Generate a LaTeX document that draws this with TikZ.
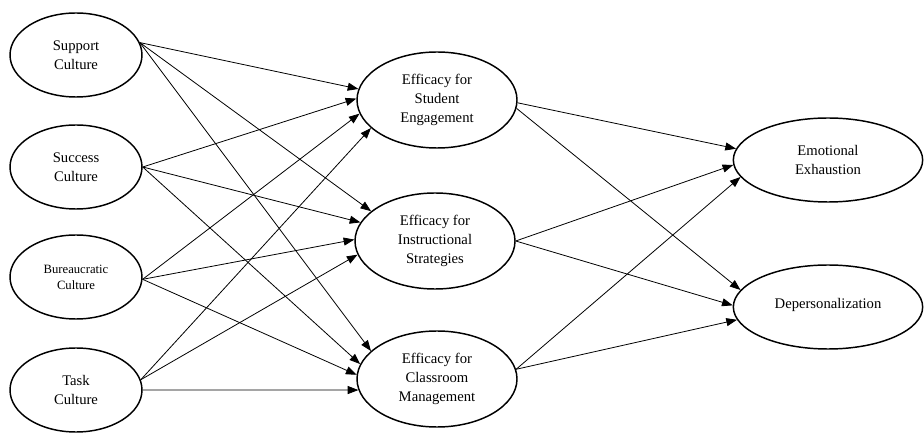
\documentclass[tikz,border=0pt]{standalone}
\usepackage{fontspec}
\setmainfont{Liberation Serif}
\usetikzlibrary{shapes.geometric}
\usetikzlibrary{arrows.meta}

\begin{document}
\begin{tikzpicture}[x=0.75pt,y=-0.75pt,
    latent/.style={draw,ellipse,line width=1.1pt,inner sep=0pt,align=center,
      font=\fontsize{11}{14}\selectfont},
    culture/.style={latent,minimum width=99pt,minimum height=63pt},
    efficacy/.style={latent,minimum width=120pt,minimum height=72pt},
    burnout/.style={latent,minimum width=142pt,minimum height=63pt},
    path/.style={-{Triangle[length=8pt,width=6pt]},line width=0.6pt}]
    \useasboundingbox (0,0) rectangle (924,434);
    % school culture
    \node[culture] (support) at (76,55) {Support\\Culture};
    \node[culture] (success) at (76,167) {Success\\Culture};
    \node[culture,font=\fontsize{9.5}{12}\selectfont] (bureau) at (76,277) {Bureaucratic\\Culture};
    \node[culture] (task) at (76,390) {Task\\Culture};
    % teacher efficacy
    \node[efficacy] (ese) at (437,100) {Efficacy for\\Student\\Engagement};
    \node[efficacy] (eis) at (435,241) {Efficacy for\\Instructional\\Strategies};
    \node[efficacy] (ecm) at (437,379) {Efficacy for\\Classroom\\Management};
    % burnout
    \node[burnout] (exhaust) at (828,160) {Emotional\\Exhaustion};
    \node[burnout] (depers) at (828,307) {\raisebox{5pt}{Depersonalization}};
    % culture -> efficacy
    \draw[path] (support.11) -- (ese.172);
    \draw[path] (support.11) -- (eis.155);
    \draw[path] (support.11) -- (ecm.157);
    \draw[path] (success.east) -- (ese.179);
    \draw[path] (success.east) -- (eis.166);
    \draw[path] (success.east) -- (ecm.169);
    \draw[path] (bureau.358) -- (ese.190);
    \draw[path] (bureau.358) -- (eis.179);
    \draw[path] (bureau.358) -- (ecm.177);
    \draw[path] (task.9) -- (ese.203);
    \draw[path] (task.9) -- (eis.190);
    \draw[path] (task.east) -- (ecm.188);
    % efficacy -> burnout
    \draw[path] (ese.358) -- (exhaust.173);
    \draw[path] (ese.354) -- (depers.169);
    \draw[path] (eis.east) -- (exhaust.183);
    \draw[path] (eis.east) -- (depers.179);
    \draw[path] (ecm.7) -- (exhaust.191);
    \draw[path] (ecm.7) -- (depers.188);
\end{tikzpicture}
\end{document}
